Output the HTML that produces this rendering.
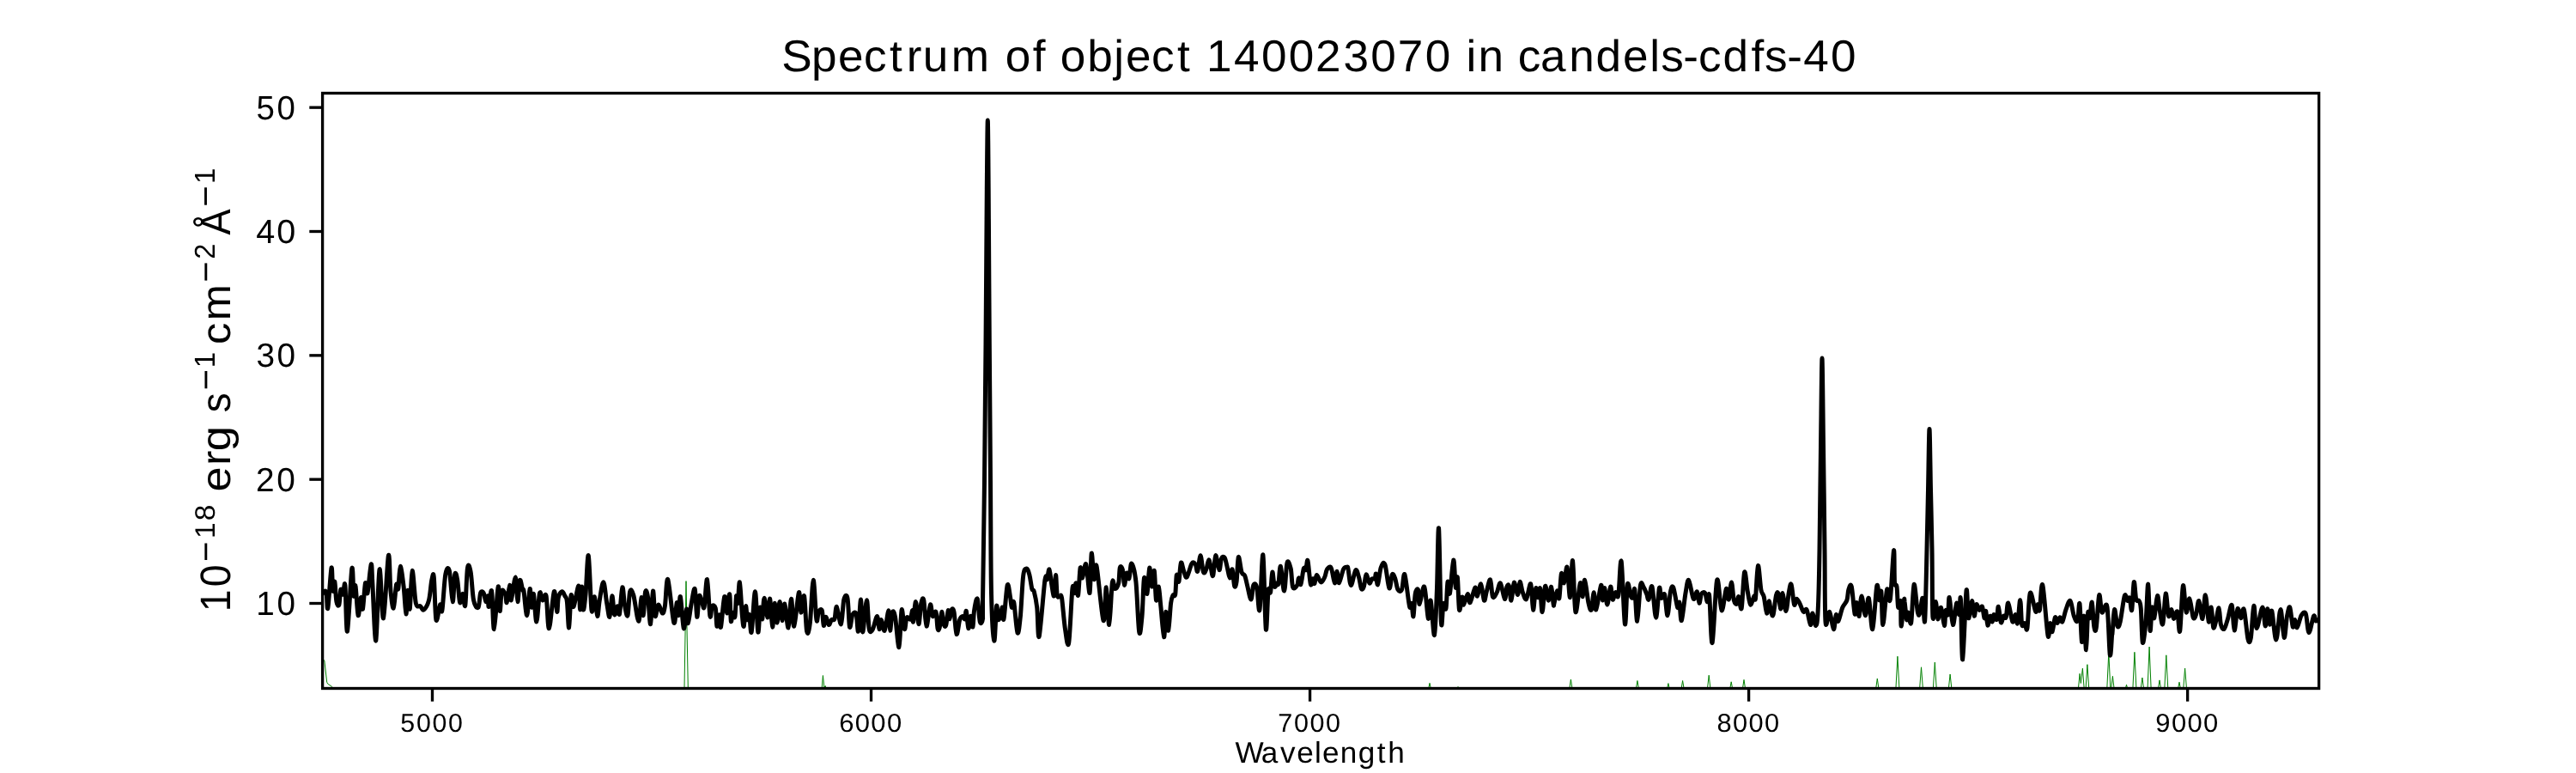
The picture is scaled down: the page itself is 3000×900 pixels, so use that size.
<!DOCTYPE html>
<html><head><meta charset="utf-8"><style>
html,body{margin:0;padding:0;background:#fff;}
svg{display:block;will-change:transform;}
text{font-family:"Liberation Sans", sans-serif;fill:#000;font-kerning:none;text-rendering:geometricPrecision;}
</style></head><body>
<svg width="3000" height="900" viewBox="0 0 3000 900">
<rect x="0" y="0" width="3000" height="900" fill="#fff"/>
<defs><clipPath id="ax"><rect x="375.6" y="108.5" width="2325.0" height="693.0"/></clipPath></defs>
<g clip-path="url(#ax)" fill="none" stroke-linejoin="round" stroke-linecap="round">
<path d="M370.0 760.0 L376.8 768.1 L377.8 769.0 L380.7 794.3 L381.6 796.1 L386.5 799.4 L392.0 806.0 L795.5 806.0 L797.0 801.0 L799.0 676.6 L801.3 801.0 L803.0 806.0 L956.8 806.0 L958.4 786.5 L959.8 800.0 L961.3 798.5 L962.5 806.0 L1662.8 806.0 L1665.0 795.3 L1667.2 806.0 L1695.8 806.0 L1698.0 799.5 L1700.2 806.0 L1827.2 806.0 L1829.4 791.0 L1831.6 806.0 L1904.7 806.0 L1906.9 792.5 L1909.1 806.0 L1940.7 806.0 L1942.9 795.6 L1945.1 806.0 L1957.4 806.0 L1959.6 792.5 L1961.8 806.0 L1988.0 806.0 L1990.2 786.2 L1992.4 806.0 L2014.0 806.0 L2016.2 793.8 L2018.4 806.0 L2028.8 806.0 L2031.0 791.4 L2033.2 806.0 L2184.1 806.0 L2186.3 790.0 L2188.5 806.0 L2207.7 806.0 L2209.9 764.2 L2212.1 806.0 L2235.3 806.0 L2237.5 776.8 L2239.7 806.0 L2251.1 806.0 L2253.3 771.1 L2255.5 806.0 L2268.9 806.0 L2271.1 785.0 L2273.3 806.0 L2420.0 806.0 L2422.1 784.3 L2423.3 795.5 L2425.4 778.2 L2427.5 806.0 L2428.8 806.0 L2430.9 773.7 L2433.0 806.0 L2453.6 806.0 L2455.8 760.0 L2458.0 806.0 L2458.2 806.0 L2460.4 787.3 L2462.6 806.0 L2474.3 806.0 L2476.5 797.2 L2478.7 806.0 L2483.7 806.0 L2485.9 759.3 L2488.1 806.0 L2492.7 806.0 L2494.9 789.0 L2497.1 806.0 L2500.9 806.0 L2503.1 753.1 L2505.3 806.0 L2512.8 806.0 L2515.0 791.9 L2517.2 806.0 L2520.6 806.0 L2522.8 762.8 L2525.0 806.0 L2535.8 806.0 L2538.0 794.2 L2540.2 806.0 L2542.4 806.0 L2544.6 778.0 L2546.8 806.0 L2710.0 806.0" stroke="#008000" stroke-width="1.0"/>
<path d="M370.0 700.6 C371.5 698.5 377.3 686.7 379.2 688.0 C381.2 689.3 380.6 712.7 381.8 708.2 C382.9 703.7 385.0 664.5 386.0 661.1 C387.0 657.7 387.0 685.3 387.7 688.0 C388.3 690.7 389.1 675.0 389.8 677.1 C390.5 679.2 391.0 696.1 391.9 700.6 C392.7 705.1 394.0 706.4 394.9 704.0 C395.7 701.6 396.1 688.3 396.9 686.3 C397.7 684.4 398.6 693.0 399.4 692.2 C400.3 691.4 401.1 674.1 401.9 681.3 C402.8 688.4 403.1 738.3 404.5 735.1 C405.8 731.9 408.6 668.8 409.8 661.9 C411.1 655.1 411.3 690.5 412.0 693.9 C412.7 697.2 413.2 678.3 414.0 682.1 C414.9 685.9 416.0 714.3 417.1 716.6 C418.1 718.8 419.5 696.8 420.4 695.6 C421.3 694.3 421.6 711.8 422.5 709.0 C423.3 706.2 424.6 681.8 425.5 678.8 C426.4 675.7 426.9 694.2 428.0 690.5 C429.1 686.9 431.2 658.6 432.2 656.9 C433.2 655.2 433.0 665.6 433.9 680.4 C434.8 695.3 436.4 748.9 437.8 746.0 C439.1 743.1 440.5 667.1 442.0 662.8 C443.4 658.4 444.8 722.6 446.5 719.9 C448.2 717.3 451.0 652.3 452.4 646.8 C453.8 641.3 453.9 676.9 454.9 687.2 C455.9 697.4 457.1 709.3 458.3 708.2 C459.4 707.1 460.7 684.2 461.6 680.4 C462.6 676.7 463.1 689.0 463.8 685.5 C464.6 682.0 465.1 660.0 466.2 659.4 C467.2 658.9 468.9 672.9 470.0 682.1 C471.2 691.4 472.1 714.1 472.9 714.9 C473.7 715.7 474.3 688.1 475.1 687.2 C475.8 686.2 476.4 712.8 477.3 709.0 C478.1 705.2 478.9 665.6 480.1 664.5 C481.3 663.3 482.8 695.4 484.3 702.3 C485.9 709.2 487.8 704.4 489.4 705.7 C490.9 706.9 491.9 711.0 493.6 709.9 C495.3 708.7 497.9 704.7 499.5 698.9 C501.0 693.2 501.8 679.9 502.8 675.4 C503.8 670.9 504.5 664.3 505.3 672.0 C506.2 679.7 506.7 716.3 507.9 721.6 C509.1 727.0 511.4 705.8 512.6 704.0 C513.7 702.2 513.9 716.6 514.9 710.7 C516.0 704.8 517.4 676.4 518.8 668.7 C520.2 661.0 521.9 659.1 523.3 664.5 C524.7 669.8 526.1 699.9 527.2 700.6 C528.3 701.3 528.8 672.9 529.7 668.7 C530.6 664.5 531.8 669.9 532.7 675.4 C533.7 680.9 534.6 698.8 535.6 701.5 C536.6 704.1 537.9 690.8 539.0 691.4 C540.0 691.9 540.9 709.9 541.8 704.8 C542.7 699.8 543.4 667.5 544.5 661.1 C545.6 654.7 547.0 659.8 548.2 666.1 C549.4 672.5 550.1 692.1 551.6 698.9 C553.0 705.8 555.6 708.7 557.0 707.3 C558.3 705.9 558.6 693.3 559.6 690.5 C560.7 687.7 562.3 688.8 563.3 690.5 C564.4 692.2 565.0 700.1 565.9 700.6 C566.7 701.2 567.8 692.9 568.4 693.9 C568.9 694.9 568.5 707.5 569.2 706.5 C569.9 705.5 571.6 683.7 572.6 688.0 C573.6 692.3 574.2 733.4 575.4 732.6 C576.7 731.7 579.0 686.5 580.2 683.0 C581.3 679.5 581.5 710.7 582.2 711.5 C582.9 712.4 583.3 691.2 584.4 688.0 C585.4 684.8 587.6 690.0 588.6 692.2 C589.5 694.4 589.4 703.3 590.2 701.5 C591.1 699.6 592.8 681.7 593.6 681.3 C594.4 680.9 594.2 700.5 595.3 698.9 C596.4 697.4 599.1 671.8 600.3 672.0 C601.6 672.3 602.0 700.1 602.9 700.6 C603.7 701.2 604.4 677.6 605.4 675.4 C606.4 673.2 608.0 685.1 608.7 687.2 C609.5 689.3 609.2 683.1 610.0 688.0 C610.8 692.9 612.5 717.0 613.7 716.6 C614.9 716.2 616.1 687.0 617.1 685.5 C618.0 683.9 618.5 706.4 619.2 707.3 C620.0 708.3 620.5 688.6 621.4 691.4 C622.4 694.2 623.6 724.3 624.8 724.1 C626.0 724.0 627.3 694.7 628.5 690.5 C629.7 686.3 630.6 698.4 631.9 698.9 C633.1 699.5 634.8 688.4 636.1 693.9 C637.3 699.4 637.9 732.6 639.4 731.7 C641.0 730.9 643.8 692.1 645.3 688.8 C646.8 685.6 647.8 711.3 648.7 712.4 C649.5 713.5 649.4 699.5 650.3 695.6 C651.3 691.6 653.3 689.1 654.6 688.8 C655.8 688.6 656.9 691.9 657.9 693.9 C658.9 695.8 659.7 694.4 660.4 700.6 C661.2 706.8 661.8 732.1 662.6 730.9 C663.4 729.6 664.2 697.1 665.1 693.0 C666.0 689.0 666.5 708.3 668.0 706.5 C669.5 704.7 672.6 681.6 673.9 682.1 C675.1 682.7 675.0 709.7 675.6 709.9 C676.2 710.0 677.0 683.0 677.6 683.0 C678.2 683.0 678.5 708.3 679.3 709.9 C680.0 711.4 680.9 702.7 682.0 692.2 C683.0 681.7 684.1 643.7 685.3 646.8 C686.5 649.9 687.8 702.7 689.0 710.7 C690.2 718.7 691.3 693.6 692.4 694.7 C693.5 695.8 694.8 716.7 695.7 717.4 C696.7 718.1 697.1 705.5 698.3 698.9 C699.4 692.3 701.4 677.4 702.8 677.9 C704.2 678.5 705.5 695.6 706.7 702.3 C707.9 709.0 709.0 719.7 710.0 718.3 C711.1 716.9 712.0 694.3 712.9 693.9 C713.8 693.5 714.6 713.8 715.6 715.7 C716.6 717.7 718.0 705.8 718.9 705.7 C719.9 705.5 720.5 718.5 721.5 714.9 C722.4 711.3 723.8 685.3 724.8 683.8 C725.9 682.3 726.6 700.2 727.7 705.7 C728.7 711.1 730.1 719.4 731.0 716.6 C732.0 713.8 732.5 692.8 733.6 688.8 C734.7 684.9 736.1 687.3 737.8 693.0 C739.5 698.8 742.1 722.9 743.7 723.3 C745.2 723.7 746.1 696.7 747.0 695.6 C747.9 694.4 748.4 717.7 749.2 716.6 C750.0 715.5 750.7 692.3 751.6 688.8 C752.5 685.3 753.6 689.3 754.6 695.6 C755.6 701.9 756.6 727.9 757.6 726.7 C758.6 725.4 759.6 689.5 760.5 688.0 C761.4 686.5 762.0 714.8 763.0 717.4 C764.0 720.1 765.3 704.5 766.7 704.0 C768.1 703.4 770.1 713.8 771.4 714.1 C772.7 714.3 773.4 712.2 774.4 705.7 C775.5 699.1 776.1 671.3 777.8 674.6 C779.5 677.8 783.1 720.5 784.8 725.0 C786.6 729.5 787.3 702.9 788.2 701.5 C789.1 700.1 789.5 717.7 790.2 716.6 C790.9 715.5 791.4 692.2 792.4 694.7 C793.4 697.2 795.1 729.3 796.3 731.7 C797.5 734.1 798.8 710.0 799.6 709.0 C800.5 708.0 800.4 726.7 801.3 725.8 C802.2 725.0 803.7 710.7 805.0 704.0 C806.3 697.2 808.1 683.1 809.2 685.5 C810.3 687.9 810.9 716.9 811.7 718.3 C812.6 719.7 813.3 696.7 814.3 693.9 C815.3 691.1 816.7 699.4 817.6 701.5 C818.6 703.6 819.2 711.0 820.2 706.5 C821.1 702.0 822.4 672.7 823.5 674.6 C824.6 676.4 825.9 712.2 826.9 717.4 C827.9 722.6 828.3 707.2 829.4 705.7 C830.5 704.1 832.3 704.3 833.3 708.2 C834.2 712.1 834.2 727.9 834.9 729.2 C835.7 730.5 837.1 715.6 837.8 715.7 C838.6 715.9 838.5 733.5 839.5 730.0 C840.5 726.5 842.5 697.4 843.7 694.7 C844.9 692.1 845.9 714.1 846.7 714.1 C847.6 714.1 848.2 698.0 848.7 694.7 C849.3 691.5 849.6 690.0 850.0 694.7 C850.4 699.5 850.8 720.2 851.3 723.3 C851.9 726.4 852.6 714.1 853.4 713.2 C854.1 712.4 855.2 721.5 855.9 718.3 C856.6 715.0 857.0 696.5 857.6 693.9 C858.1 691.2 858.6 705.0 859.2 702.3 C859.9 699.6 860.6 675.7 861.4 677.9 C862.3 680.2 863.5 707.2 864.3 715.7 C865.1 724.3 865.6 730.9 866.3 729.2 C867.0 727.5 867.8 706.9 868.5 705.7 C869.2 704.4 869.8 719.9 870.5 721.6 C871.2 723.3 871.9 713.4 872.7 715.7 C873.5 718.1 874.1 740.4 875.2 735.9 C876.3 731.4 878.2 688.8 879.4 688.8 C880.7 688.8 881.8 732.8 882.8 735.9 C883.8 739.0 884.5 709.9 885.3 707.3 C886.1 704.8 887.0 722.6 887.8 720.8 C888.6 719.0 889.0 696.7 890.0 696.4 C891.1 696.1 892.9 719.0 894.0 719.1 C895.2 719.2 895.8 695.4 896.7 697.2 C897.7 699.1 898.7 729.2 899.6 730.0 C900.5 730.9 901.2 703.1 902.1 702.3 C903.0 701.5 904.2 725.3 905.1 725.0 C906.1 724.7 907.0 701.0 908.0 700.6 C909.0 700.2 909.9 722.0 910.9 722.5 C911.8 722.9 912.7 701.7 913.9 703.1 C915.1 704.5 916.8 731.9 918.1 730.9 C919.4 729.9 920.3 697.5 921.5 697.2 C922.6 697.0 923.3 730.5 924.8 729.2 C926.3 727.9 929.0 692.3 930.4 689.7 C931.7 687.0 931.7 712.5 932.7 713.2 C933.8 713.9 935.4 690.2 936.6 693.9 C937.7 697.5 938.5 729.8 939.6 735.1 C940.7 740.4 942.0 735.8 943.3 725.8 C944.6 715.9 945.9 676.1 947.2 675.4 C948.4 674.7 949.8 715.5 950.9 721.6 C951.9 727.8 952.3 714.2 953.4 712.4 C954.5 710.6 956.3 708.0 957.3 710.7 C958.2 713.4 958.5 727.1 959.3 728.4 C960.0 729.6 960.8 718.4 961.8 718.3 C962.8 718.1 964.0 727.0 965.2 727.5 C966.3 728.1 967.4 722.7 968.5 721.6 C969.6 720.5 970.9 723.3 971.9 720.8 C972.9 718.3 973.2 705.5 974.4 706.5 C975.7 707.5 978.1 728.1 979.5 726.7 C980.9 725.3 981.6 703.1 982.8 698.1 C984.1 693.0 985.9 691.1 987.0 696.4 C988.1 701.7 988.6 726.8 989.5 730.0 C990.5 733.3 991.6 718.3 992.9 715.7 C994.2 713.2 996.0 711.7 997.1 714.9 C998.2 718.1 998.7 737.9 999.6 735.1 C1000.5 732.3 1001.6 698.0 1002.5 698.1 C1003.3 698.2 1003.5 735.8 1004.7 735.9 C1005.8 736.1 1008.1 699.5 1009.4 698.9 C1010.6 698.4 1011.1 727.0 1012.2 732.6 C1013.4 738.2 1014.9 735.1 1016.4 732.6 C1018.0 730.0 1020.2 717.4 1021.5 717.4 C1022.7 717.4 1023.2 731.9 1024.0 732.6 C1024.8 733.3 1025.5 721.3 1026.5 721.6 C1027.6 721.9 1028.8 736.1 1030.2 734.2 C1031.6 732.4 1033.9 710.7 1034.9 710.7 C1036.0 710.7 1035.9 733.8 1036.6 734.2 C1037.3 734.7 1038.2 715.9 1039.1 713.2 C1040.1 710.6 1041.2 711.5 1042.5 718.3 C1043.8 725.0 1045.8 755.0 1047.0 753.6 C1048.3 752.2 1049.0 713.4 1050.1 709.9 C1051.1 706.4 1052.4 731.0 1053.4 732.6 C1054.4 734.1 1054.8 721.1 1056.0 719.1 C1057.1 717.1 1059.0 722.2 1060.2 720.8 C1061.3 719.4 1062.1 710.1 1062.7 710.7 C1063.2 711.3 1062.9 725.8 1063.5 724.1 C1064.2 722.5 1065.5 700.2 1066.5 700.6 C1067.6 701.0 1068.9 726.4 1069.9 726.7 C1070.9 727.0 1071.8 706.9 1072.8 702.3 C1073.7 697.7 1074.8 694.4 1075.8 698.9 C1076.8 703.4 1077.7 728.4 1079.0 729.2 C1080.2 730.0 1082.2 705.9 1083.4 704.0 C1084.6 702.0 1085.1 716.0 1086.2 717.4 C1087.3 718.8 1089.0 710.0 1090.0 712.4 C1091.0 714.8 1091.3 728.6 1092.0 731.7 C1092.7 734.8 1093.4 734.1 1094.2 730.9 C1095.0 727.7 1095.9 712.9 1096.7 712.4 C1097.6 711.8 1098.4 725.0 1099.2 727.5 C1100.1 730.0 1100.9 730.3 1101.8 727.5 C1102.6 724.7 1103.6 711.8 1104.3 710.7 C1105.0 709.6 1105.3 720.9 1106.0 720.8 C1106.6 720.6 1107.3 711.3 1108.2 709.9 C1109.0 708.5 1110.0 707.6 1111.0 712.4 C1112.0 717.1 1112.9 736.9 1114.0 738.4 C1115.2 740.0 1116.6 725.1 1117.7 721.6 C1118.9 718.1 1120.1 717.6 1121.1 717.4 C1122.1 717.3 1122.9 721.8 1123.6 720.8 C1124.3 719.8 1124.6 709.7 1125.3 711.5 C1126.0 713.4 1127.0 730.7 1127.8 731.7 C1128.7 732.7 1129.5 717.7 1130.3 717.4 C1131.2 717.1 1132.2 731.2 1132.9 730.0 C1133.6 728.9 1133.7 716.2 1134.6 710.7 C1135.4 705.2 1137.1 695.0 1138.3 697.2 C1139.4 699.5 1140.2 720.4 1141.3 724.1 C1142.3 727.9 1144.1 724.0 1144.6 719.9 C1144.5 715.9 1144.5 726.7 1144.5 700.0 C1144.8 673.3 1145.9 610.0 1146.5 560.0 C1147.1 510.0 1147.5 456.7 1148.0 400.0 C1148.5 343.3 1148.9 263.3 1149.3 220.0 C1149.7 176.7 1150.0 140.0 1150.3 140.0 C1150.6 140.0 1150.9 176.7 1151.2 220.0 C1151.5 263.3 1151.9 343.3 1152.3 400.0 C1152.7 456.7 1153.1 511.7 1153.5 560.0 C1153.9 608.3 1153.8 659.0 1154.5 690.0 C1155.2 721.0 1156.7 743.4 1157.8 746.0 C1158.8 748.6 1159.8 709.7 1160.6 705.7 C1161.4 701.6 1161.8 720.2 1162.6 721.6 C1163.5 723.0 1164.9 716.4 1165.7 714.1 C1166.4 711.7 1166.8 706.2 1167.3 707.3 C1167.9 708.5 1168.0 725.1 1169.0 720.8 C1170.0 716.4 1172.0 685.5 1173.2 681.3 C1174.5 677.1 1175.7 691.2 1176.6 695.6 C1177.4 699.9 1177.6 706.4 1178.3 707.3 C1179.0 708.3 1179.7 696.5 1180.8 701.5 C1181.9 706.4 1183.7 734.1 1185.0 736.8 C1186.3 739.4 1187.2 728.5 1188.4 717.4 C1189.5 706.4 1190.5 679.6 1191.7 670.3 C1192.9 661.1 1194.4 662.1 1195.6 661.9 C1196.8 661.8 1197.9 665.6 1198.9 669.5 C1200.0 673.4 1200.9 682.3 1201.8 685.5 C1202.7 688.7 1203.3 685.2 1204.3 688.8 C1205.3 692.5 1206.7 698.7 1207.7 707.3 C1208.7 716.0 1208.7 746.3 1210.2 741.0 C1211.7 735.6 1215.4 686.5 1216.9 675.4 C1218.5 664.3 1218.6 676.7 1219.5 674.6 C1220.3 672.5 1221.1 662.1 1222.0 662.8 C1222.8 663.5 1223.6 673.6 1224.5 678.8 C1225.4 683.9 1226.7 695.4 1227.5 693.9 C1228.4 692.3 1228.9 669.6 1229.5 669.5 C1230.2 669.4 1230.4 688.8 1231.2 693.0 C1232.0 697.2 1233.4 694.2 1234.3 694.7 C1235.1 695.3 1235.6 690.1 1236.6 696.4 C1237.6 702.7 1239.1 723.9 1240.5 732.6 C1241.8 741.2 1243.3 756.4 1244.7 748.5 C1246.1 740.7 1247.8 695.1 1248.9 685.5 C1250.0 675.8 1250.7 691.6 1251.4 690.5 C1252.1 689.4 1252.4 678.3 1253.1 678.8 C1253.8 679.2 1254.8 696.0 1255.6 693.0 C1256.4 690.1 1257.3 664.5 1258.1 661.1 C1259.0 657.7 1259.5 673.6 1260.6 672.9 C1261.8 672.2 1263.4 654.0 1264.8 656.9 C1266.2 659.8 1268.0 692.6 1269.1 690.5 C1270.1 688.4 1270.4 647.0 1271.2 644.3 C1272.1 641.6 1273.1 672.0 1274.1 674.6 C1275.1 677.1 1275.3 651.4 1277.1 659.4 C1278.9 667.4 1283.1 718.4 1285.0 722.5 C1286.9 726.5 1287.3 683.0 1288.4 683.8 C1289.5 684.6 1290.6 728.5 1291.7 727.5 C1292.9 726.5 1294.3 684.9 1295.4 677.9 C1296.6 670.9 1297.3 685.3 1298.5 685.5 C1299.7 685.6 1301.7 683.0 1302.7 678.8 C1303.7 674.6 1303.5 662.6 1304.4 660.3 C1305.2 657.9 1306.9 661.0 1307.7 664.5 C1308.6 668.0 1308.6 680.9 1309.4 681.3 C1310.2 681.7 1311.3 668.2 1312.3 667.0 C1313.2 665.7 1314.0 675.5 1314.9 673.7 C1315.9 671.9 1316.5 655.5 1317.8 656.1 C1319.1 656.6 1321.4 663.8 1322.9 677.1 C1324.3 690.4 1325.5 729.2 1326.7 735.9 C1327.9 742.6 1329.0 727.9 1330.0 717.4 C1331.0 706.9 1331.5 677.2 1332.5 672.9 C1333.5 668.5 1334.8 693.3 1335.9 691.4 C1336.9 689.4 1337.8 662.5 1338.7 661.1 C1339.7 659.7 1340.5 682.4 1341.4 683.0 C1342.4 683.5 1343.4 661.8 1344.3 664.5 C1345.1 667.1 1345.6 695.8 1346.5 698.9 C1347.3 702.0 1348.4 681.7 1349.3 683.0 C1350.2 684.2 1350.8 696.7 1351.9 706.5 C1352.9 716.3 1354.6 740.8 1355.6 741.8 C1356.5 742.8 1356.9 713.6 1357.7 712.4 C1358.6 711.1 1359.6 735.9 1360.6 734.2 C1361.6 732.6 1362.7 709.2 1363.6 702.3 C1364.5 695.4 1365.3 694.7 1366.1 693.0 C1367.0 691.4 1368.0 696.1 1368.7 692.2 C1369.4 688.3 1369.6 672.0 1370.3 669.5 C1371.1 667.0 1372.0 679.5 1372.9 677.1 C1373.7 674.7 1374.4 657.2 1375.4 655.2 C1376.4 653.3 1377.6 662.5 1378.8 665.3 C1379.9 668.1 1380.6 673.6 1382.1 672.0 C1383.7 670.5 1386.3 658.6 1388.0 656.1 C1389.7 653.5 1391.1 655.4 1392.2 656.9 C1393.3 658.4 1393.7 667.0 1394.7 665.3 C1395.7 663.6 1397.0 646.7 1398.1 646.8 C1399.2 647.0 1400.3 663.5 1401.5 666.1 C1402.6 668.8 1403.8 665.2 1404.8 662.8 C1405.9 660.4 1406.8 652.4 1407.7 651.9 C1408.5 651.3 1409.0 656.3 1409.9 659.4 C1410.7 662.5 1411.7 672.5 1412.7 670.3 C1413.7 668.2 1414.5 647.9 1415.7 646.8 C1416.9 645.7 1418.8 663.1 1419.9 663.6 C1421.1 664.2 1421.4 652.6 1422.5 650.2 C1423.5 647.8 1425.0 647.7 1426.2 649.3 C1427.3 651.0 1428.2 656.3 1429.2 660.3 C1430.2 664.2 1431.2 672.5 1432.2 672.9 C1433.2 673.3 1434.2 661.2 1435.1 662.8 C1436.0 664.3 1436.8 679.7 1437.6 682.1 C1438.4 684.5 1439.3 682.7 1440.1 677.1 C1440.9 671.5 1441.3 650.3 1442.3 648.5 C1443.3 646.7 1444.8 662.5 1446.0 666.1 C1447.2 669.8 1448.6 667.7 1449.7 670.3 C1450.8 673.0 1451.5 677.5 1452.7 682.1 C1453.9 686.7 1455.8 698.2 1456.9 698.1 C1458.1 698.0 1458.7 683.7 1459.8 681.3 C1460.9 678.9 1462.5 679.0 1463.7 683.8 C1464.9 688.6 1465.8 716.2 1467.0 709.9 C1468.2 703.6 1469.7 642.2 1470.9 646.0 C1472.1 649.8 1473.2 725.7 1474.3 732.6 C1475.3 739.4 1476.2 694.3 1477.1 687.2 C1478.0 680.0 1478.8 693.2 1479.6 689.7 C1480.4 686.2 1481.0 667.3 1481.8 666.1 C1482.6 665.0 1483.4 680.9 1484.3 683.0 C1485.2 685.1 1486.4 679.3 1487.2 678.8 C1488.0 678.2 1488.2 682.8 1488.9 679.6 C1489.6 676.4 1490.3 658.0 1491.4 659.4 C1492.5 660.8 1494.3 688.7 1495.6 688.0 C1496.9 687.3 1497.7 659.6 1499.0 655.2 C1500.2 650.9 1502.0 657.2 1503.2 661.9 C1504.3 666.7 1504.4 680.6 1505.7 683.8 C1507.0 687.0 1509.6 683.1 1510.7 681.3 C1511.9 679.5 1511.7 673.0 1512.4 672.9 C1513.1 672.7 1514.0 682.3 1514.9 680.4 C1515.9 678.6 1517.3 664.7 1518.3 661.9 C1519.3 659.1 1520.0 665.2 1520.8 663.6 C1521.6 662.1 1522.1 649.9 1523.0 652.7 C1523.9 655.5 1525.3 676.9 1526.4 680.4 C1527.4 683.9 1528.5 673.9 1529.2 673.7 C1530.0 673.6 1530.2 680.3 1530.9 679.6 C1531.6 678.9 1532.2 669.8 1533.4 669.5 C1534.7 669.2 1536.9 677.5 1538.5 677.9 C1540.0 678.3 1541.5 674.6 1542.7 672.0 C1543.9 669.5 1544.3 664.6 1545.5 662.8 C1546.8 661.0 1548.8 658.4 1550.2 661.1 C1551.7 663.8 1553.3 678.1 1554.4 678.8 C1555.6 679.5 1556.1 665.3 1557.0 665.3 C1557.8 665.3 1558.2 679.2 1559.5 678.8 C1560.7 678.3 1563.0 665.9 1564.5 662.8 C1566.1 659.7 1567.8 660.4 1568.7 660.3 C1569.6 660.2 1569.2 658.7 1570.0 662.2 C1570.8 665.8 1571.9 681.3 1573.4 681.5 C1574.8 681.8 1577.2 665.4 1578.7 663.9 C1580.3 662.3 1581.5 668.7 1582.6 672.3 C1583.7 675.9 1584.5 684.1 1585.5 685.7 C1586.4 687.4 1587.6 685.2 1588.5 682.4 C1589.4 679.6 1590.0 669.5 1591.0 668.9 C1592.1 668.4 1593.8 678.2 1594.9 679.0 C1596.0 679.9 1596.7 674.8 1597.7 674.0 C1598.8 673.1 1600.3 675.0 1601.1 674.0 C1601.9 673.0 1601.9 667.0 1602.4 668.1 C1603.0 669.2 1603.5 682.0 1604.5 680.7 C1605.4 679.4 1606.9 664.4 1608.3 660.5 C1609.7 656.6 1611.3 653.1 1612.9 657.2 C1614.5 661.2 1616.5 682.9 1617.9 684.9 C1619.3 686.9 1620.2 670.9 1621.3 668.9 C1622.4 667.0 1623.5 670.2 1624.6 673.1 C1625.8 676.1 1626.7 684.3 1628.0 686.6 C1629.3 688.8 1631.2 689.5 1632.5 686.6 C1633.9 683.6 1634.4 665.7 1635.9 668.9 C1637.4 672.2 1640.1 700.3 1641.5 705.9 C1642.8 711.5 1643.2 700.6 1644.0 702.6 C1644.7 704.5 1645.3 719.5 1646.0 717.7 C1646.7 715.9 1647.3 696.8 1648.2 691.6 C1649.1 686.4 1650.7 684.6 1651.5 686.6 C1652.4 688.5 1652.0 704.0 1653.2 703.4 C1654.4 702.8 1657.1 680.4 1658.8 683.2 C1660.5 686.0 1662.1 717.5 1663.3 720.2 C1664.5 722.9 1665.0 696.0 1666.2 699.2 C1667.4 702.4 1669.3 741.5 1670.5 739.5 C1671.7 737.6 1672.6 708.2 1673.4 687.4 C1674.2 666.7 1674.7 609.0 1675.6 615.1 C1676.4 621.3 1677.5 709.8 1678.4 724.4 C1679.3 739.0 1680.0 705.2 1681.0 702.6 C1681.9 699.9 1683.1 712.6 1684.0 708.4 C1684.8 704.2 1685.2 680.3 1686.0 677.3 C1686.8 674.4 1687.4 695.0 1688.5 690.8 C1689.6 686.6 1691.6 653.2 1692.7 652.1 C1693.9 651.0 1694.5 680.7 1695.3 684.1 C1696.0 687.4 1696.7 668.0 1697.4 672.3 C1698.1 676.6 1698.6 706.3 1699.5 710.1 C1700.4 713.9 1702.0 696.0 1702.8 695.0 C1703.7 694.0 1703.4 704.8 1704.5 704.2 C1705.6 703.7 1707.9 692.0 1709.2 691.6 C1710.5 691.2 1710.6 703.0 1712.1 701.7 C1713.5 700.5 1716.5 685.3 1717.9 684.1 C1719.3 682.8 1719.3 694.8 1720.5 694.1 C1721.6 693.4 1723.4 679.0 1724.7 679.9 C1726.0 680.7 1727.3 697.8 1728.4 699.2 C1729.5 700.6 1730.2 692.3 1731.4 688.3 C1732.6 684.2 1734.4 673.7 1735.6 674.8 C1736.8 675.9 1737.2 692.5 1738.5 695.0 C1739.7 697.5 1741.7 692.6 1743.2 689.9 C1744.7 687.3 1745.8 677.8 1747.4 679.0 C1748.9 680.3 1751.2 696.8 1752.4 697.5 C1753.7 698.2 1754.1 685.7 1754.9 683.2 C1755.8 680.7 1756.6 679.7 1757.5 682.4 C1758.3 685.0 1759.0 699.9 1760.0 699.2 C1761.0 698.5 1762.1 679.3 1763.3 678.2 C1764.6 677.1 1766.4 692.6 1767.5 692.5 C1768.7 692.3 1769.1 677.8 1770.1 677.3 C1771.0 676.9 1772.2 686.6 1773.4 689.9 C1774.7 693.3 1776.1 699.2 1777.6 697.5 C1779.2 695.8 1781.4 677.8 1782.7 679.9 C1784.0 682.0 1784.6 709.3 1785.5 710.1 C1786.5 711.0 1787.6 687.3 1788.6 684.9 C1789.5 682.5 1790.2 695.8 1791.1 695.8 C1791.9 695.8 1792.8 682.1 1793.6 684.9 C1794.4 687.7 1795.1 713.1 1796.1 712.6 C1797.1 712.2 1798.3 684.6 1799.5 682.4 C1800.7 680.1 1802.2 699.1 1803.4 699.2 C1804.6 699.3 1805.8 682.5 1806.7 683.2 C1807.7 683.9 1808.5 700.2 1809.1 703.4 C1809.6 706.6 1809.3 704.9 1810.0 702.3 C1810.7 699.7 1812.4 689.0 1813.4 688.0 C1814.3 687.0 1815.0 699.8 1815.9 696.4 C1816.7 693.0 1817.5 670.8 1818.4 667.8 C1819.3 664.9 1820.3 680.0 1821.4 678.8 C1822.6 677.5 1824.0 657.5 1825.1 660.3 C1826.3 663.1 1827.4 696.8 1828.5 695.6 C1829.6 694.3 1830.5 649.9 1831.5 652.7 C1832.6 655.5 1833.4 708.0 1834.9 712.4 C1836.3 716.7 1838.9 681.7 1840.3 678.8 C1841.7 675.8 1842.4 695.3 1843.3 694.7 C1844.2 694.2 1844.5 674.1 1845.6 675.4 C1846.8 676.7 1848.7 696.5 1850.0 702.3 C1851.3 708.0 1852.3 712.0 1853.4 709.9 C1854.4 707.8 1855.3 689.7 1856.2 689.7 C1857.1 689.7 1857.4 711.3 1858.8 709.9 C1860.2 708.5 1863.4 683.1 1864.6 681.3 C1865.9 679.5 1865.6 698.4 1866.3 698.9 C1867.0 699.5 1867.9 683.8 1868.8 684.6 C1869.8 685.5 1870.7 704.3 1871.9 704.0 C1873.0 703.7 1874.5 683.9 1875.6 683.0 C1876.6 682.0 1877.1 697.0 1878.1 698.1 C1879.1 699.2 1880.3 690.5 1881.5 689.7 C1882.6 688.8 1883.7 699.1 1884.8 693.0 C1885.9 687.0 1886.9 647.9 1888.2 653.5 C1889.4 659.1 1891.2 722.2 1892.4 726.7 C1893.6 731.2 1894.3 685.9 1895.4 680.4 C1896.5 675.0 1898.1 691.4 1899.1 693.9 C1900.1 696.4 1900.8 696.8 1901.6 695.6 C1902.4 694.3 1903.0 681.7 1903.8 686.3 C1904.7 690.9 1905.6 724.1 1906.7 723.3 C1907.8 722.5 1909.3 687.9 1910.5 681.3 C1911.8 674.7 1913.1 682.1 1914.2 683.8 C1915.4 685.5 1916.6 689.0 1917.6 691.4 C1918.6 693.7 1919.1 699.5 1920.1 698.1 C1921.2 696.7 1922.6 679.5 1924.0 683.0 C1925.4 686.5 1927.1 718.8 1928.5 719.1 C1929.9 719.4 1931.4 688.4 1932.4 684.6 C1933.4 680.9 1933.7 695.1 1934.7 696.4 C1935.8 697.7 1937.4 688.8 1938.6 692.2 C1939.8 695.6 1940.9 717.0 1942.0 716.6 C1943.1 716.2 1944.2 695.1 1945.3 689.7 C1946.5 684.2 1947.3 680.9 1948.7 683.8 C1950.1 686.7 1952.5 704.4 1953.7 707.3 C1955.0 710.3 1955.2 698.9 1955.9 701.5 C1956.7 704.0 1957.1 724.3 1958.3 722.5 C1959.5 720.6 1961.6 698.4 1963.0 690.5 C1964.4 682.7 1965.2 674.3 1966.7 675.4 C1968.2 676.5 1970.6 695.0 1972.2 697.2 C1973.9 699.5 1975.3 688.0 1976.4 688.8 C1977.6 689.7 1978.1 701.9 1979.0 702.3 C1979.8 702.7 1980.4 693.3 1981.5 691.4 C1982.6 689.4 1984.6 689.0 1985.7 690.5 C1986.8 692.1 1987.4 700.1 1988.2 700.6 C1989.1 701.2 1989.8 685.9 1990.7 693.9 C1991.7 701.9 1992.6 751.6 1994.1 748.5 C1995.6 745.4 1997.8 681.7 1999.6 675.4 C2001.5 669.1 2003.2 709.0 2005.0 710.7 C2006.8 712.4 2009.0 687.6 2010.4 685.5 C2011.8 683.4 2012.4 699.4 2013.4 698.1 C2014.4 696.8 2015.5 677.8 2016.5 677.9 C2017.4 678.1 2018.3 694.7 2019.3 698.9 C2020.4 703.1 2021.8 703.8 2022.7 703.1 C2023.6 702.4 2023.9 693.9 2024.9 694.7 C2025.8 695.6 2027.1 712.9 2028.2 708.2 C2029.3 703.4 2030.4 669.4 2031.6 666.1 C2032.8 662.9 2034.1 682.5 2035.3 688.8 C2036.5 695.1 2037.4 703.1 2038.6 704.0 C2039.9 704.8 2041.9 695.1 2042.9 693.9 C2043.8 692.6 2043.8 702.3 2044.5 696.4 C2045.3 690.5 2046.3 660.2 2047.4 658.6 C2048.5 656.9 2049.8 680.6 2050.9 686.6 C2052.0 692.6 2053.1 690.2 2054.2 694.7 C2055.3 699.3 2056.6 713.2 2057.6 714.1 C2058.5 714.9 2059.2 700.1 2060.1 699.8 C2060.9 699.5 2061.8 709.7 2062.6 712.4 C2063.4 715.0 2064.2 719.0 2065.1 715.7 C2066.1 712.5 2067.5 697.1 2068.5 693.0 C2069.5 689.0 2070.1 688.7 2071.0 691.4 C2071.9 694.0 2073.0 709.2 2073.9 709.0 C2074.7 708.9 2075.1 690.1 2076.1 690.5 C2077.1 690.9 2078.7 711.7 2079.9 711.5 C2081.1 711.4 2082.3 694.9 2083.3 689.7 C2084.3 684.5 2085.1 678.1 2086.1 680.4 C2087.2 682.8 2088.5 701.2 2089.5 704.0 C2090.5 706.8 2091.2 697.4 2092.4 697.2 C2093.5 697.1 2094.9 700.6 2096.2 703.1 C2097.6 705.7 2099.1 711.3 2100.4 712.4 C2101.8 713.5 2102.8 707.3 2104.1 709.9 C2105.5 712.4 2107.4 726.8 2108.5 727.5 C2109.6 728.2 2109.8 713.9 2110.9 714.1 C2111.9 714.2 2113.7 728.9 2114.7 728.4 C2115.8 727.8 2116.5 725.4 2117.2 710.7 C2118.0 696.0 2118.5 671.8 2119.0 640.0 C2119.5 608.2 2120.0 557.2 2120.5 520.0 C2121.0 482.8 2121.5 417.0 2122.0 417.0 C2122.5 417.0 2123.0 482.8 2123.5 520.0 C2124.0 557.2 2124.6 606.0 2125.0 640.0 C2125.4 674.0 2125.0 712.1 2126.0 724.1 C2126.9 736.2 2129.1 711.0 2130.7 712.4 C2132.3 713.8 2134.1 732.0 2135.4 732.6 C2136.7 733.1 2137.4 717.3 2138.3 715.7 C2139.2 714.2 2139.5 724.7 2140.8 723.3 C2142.0 721.9 2144.1 711.4 2145.8 707.3 C2147.5 703.3 2149.7 702.4 2150.9 698.9 C2152.1 695.4 2152.0 689.0 2152.9 686.3 C2153.8 683.7 2155.0 678.2 2156.3 683.0 C2157.5 687.7 2159.1 711.8 2160.1 714.9 C2161.1 718.0 2161.5 701.0 2162.3 701.5 C2163.1 701.9 2164.2 718.7 2165.2 717.4 C2166.1 716.2 2166.8 694.0 2168.0 693.9 C2169.2 693.7 2171.0 716.2 2172.4 716.6 C2173.8 717.0 2175.0 693.7 2176.4 696.4 C2177.8 699.1 2179.2 734.9 2180.8 732.6 C2182.4 730.2 2184.5 687.7 2185.8 682.1 C2187.2 676.5 2187.9 697.8 2188.7 698.9 C2189.5 700.1 2190.2 684.1 2190.9 688.8 C2191.6 693.6 2191.8 727.9 2192.9 727.5 C2194.0 727.1 2196.2 691.2 2197.6 686.3 C2199.0 681.4 2200.0 705.7 2201.3 698.1 C2202.6 690.5 2204.6 644.3 2205.5 640.9 C2206.4 637.6 2205.9 671.0 2206.5 678.0 C2207.1 685.0 2208.3 678.2 2209.0 683.0 C2209.7 687.8 2209.9 704.2 2210.6 707.0 C2211.3 709.8 2212.8 696.3 2213.4 700.0 C2214.0 703.7 2213.5 729.0 2214.2 729.0 C2214.8 729.0 2216.6 704.7 2217.3 700.0 C2218.0 695.3 2217.6 697.0 2218.1 700.6 C2218.7 704.2 2219.9 719.5 2220.6 721.6 C2221.3 723.7 2221.5 712.7 2222.3 713.2 C2223.2 713.8 2224.6 730.5 2225.7 725.0 C2226.8 719.5 2227.8 682.5 2229.1 680.4 C2230.3 678.3 2232.1 706.8 2233.3 712.4 C2234.4 718.0 2234.8 716.7 2235.8 714.1 C2236.8 711.4 2238.2 695.0 2239.1 696.4 C2240.1 697.8 2240.9 731.9 2241.7 722.5 C2242.5 713.1 2243.4 665.4 2244.0 640.0 C2244.6 614.6 2245.0 593.4 2245.5 570.0 C2246.0 546.6 2246.5 499.5 2247.0 499.5 C2247.5 499.5 2248.0 546.6 2248.5 570.0 C2249.0 593.4 2249.6 615.3 2250.0 640.0 C2250.4 664.7 2250.2 708.2 2250.9 718.3 C2251.6 728.4 2253.3 700.2 2254.3 700.6 C2255.3 701.0 2255.8 719.7 2256.8 720.8 C2257.8 721.9 2259.2 706.1 2260.5 707.3 C2261.8 708.6 2263.4 727.8 2264.4 728.4 C2265.3 728.9 2265.3 712.8 2266.0 710.7 C2266.7 708.6 2267.9 718.3 2268.6 715.7 C2269.3 713.2 2269.3 693.6 2270.2 695.6 C2271.2 697.5 2273.0 726.4 2274.4 727.5 C2275.8 728.6 2277.4 704.3 2278.6 702.3 C2279.9 700.3 2280.9 716.6 2281.7 715.7 C2282.5 714.9 2282.7 688.6 2283.4 697.2 C2284.0 705.9 2284.6 769.4 2285.7 767.9 C2286.8 766.3 2288.9 695.8 2290.0 687.7 C2291.1 679.7 2291.5 717.7 2292.5 719.7 C2293.6 721.6 2295.3 699.9 2296.4 699.5 C2297.5 699.1 2298.4 716.5 2299.2 717.2 C2300.1 717.9 2300.8 704.8 2301.8 703.7 C2302.7 702.6 2304.0 710.0 2305.1 710.4 C2306.3 710.9 2307.5 704.7 2308.5 706.2 C2309.5 707.8 2310.3 718.8 2311.0 719.7 C2311.7 720.5 2312.1 709.9 2312.7 711.3 C2313.3 712.7 2314.0 727.1 2314.9 728.1 C2315.7 729.1 2316.8 717.9 2317.7 717.2 C2318.6 716.5 2319.6 724.2 2320.3 723.9 C2321.0 723.6 2321.1 715.9 2321.9 715.5 C2322.8 715.1 2324.4 722.9 2325.3 721.4 C2326.2 719.8 2326.5 705.7 2327.3 706.2 C2328.2 706.8 2329.3 722.9 2330.3 724.7 C2331.4 726.5 2332.4 718.1 2333.4 717.2 C2334.4 716.2 2335.3 721.4 2336.2 718.8 C2337.1 716.3 2337.5 701.2 2338.8 702.0 C2340.0 702.9 2342.4 721.6 2343.8 723.9 C2345.2 726.1 2346.2 715.2 2347.2 715.5 C2348.1 715.8 2348.8 728.4 2349.7 725.6 C2350.6 722.8 2351.9 698.4 2352.7 698.7 C2353.6 698.9 2353.8 722.8 2354.7 727.2 C2355.6 731.7 2357.1 724.9 2358.1 725.6 C2359.1 726.3 2359.9 737.3 2360.9 731.5 C2362.0 725.6 2362.7 693.5 2364.3 690.3 C2365.9 687.0 2369.2 709.9 2370.7 712.1 C2372.2 714.4 2372.4 704.0 2373.2 703.7 C2374.0 703.4 2374.5 714.2 2375.4 710.4 C2376.3 706.7 2377.2 676.1 2378.8 681.0 C2380.4 685.9 2383.5 732.4 2385.0 739.9 C2386.4 747.3 2386.7 726.3 2387.5 725.6 C2388.4 724.9 2389.1 736.8 2390.0 735.7 C2391.0 734.5 2392.4 720.5 2393.4 718.8 C2394.4 717.2 2395.0 725.6 2395.9 725.6 C2396.8 725.6 2398.0 719.1 2398.9 718.8 C2399.9 718.6 2400.6 725.4 2401.8 723.9 C2403.0 722.3 2404.5 713.7 2406.0 709.6 C2407.5 705.5 2409.5 698.2 2411.0 699.5 C2412.6 700.8 2413.9 713.2 2415.3 717.2 C2416.7 721.1 2418.3 725.4 2419.5 723.0 C2420.6 720.7 2421.1 698.8 2422.0 702.9 C2422.8 706.9 2423.7 745.0 2424.5 747.4 C2425.3 749.8 2426.2 715.6 2427.0 717.2 C2427.9 718.7 2428.8 757.2 2429.5 756.7 C2430.3 756.1 2430.9 720.0 2431.6 713.8 C2432.3 707.6 2433.0 721.8 2433.7 719.7 C2434.5 717.6 2435.4 699.5 2436.3 701.2 C2437.1 702.9 2437.9 724.9 2438.8 729.8 C2439.6 734.7 2440.3 736.8 2441.3 730.6 C2442.3 724.4 2443.6 695.7 2444.7 692.8 C2445.8 689.8 2446.5 710.7 2448.0 713.0 C2449.6 715.2 2452.4 698.0 2453.9 706.2 C2455.5 714.5 2456.3 757.7 2457.3 762.6 C2458.3 767.5 2459.4 739.9 2459.8 735.7 C2460.0 731.5 2459.8 741.7 2460.0 737.3 C2460.5 733.0 2461.5 711.0 2462.5 709.6 C2463.5 708.2 2464.8 726.5 2465.9 728.9 C2467.0 731.3 2467.8 729.8 2469.2 723.9 C2470.6 718.0 2472.9 697.7 2474.3 693.6 C2475.7 689.6 2476.7 699.1 2477.7 699.5 C2478.6 699.9 2479.3 694.3 2480.2 696.1 C2481.0 698.0 2481.9 713.5 2482.7 710.4 C2483.5 707.4 2484.4 679.8 2485.2 677.7 C2486.1 675.6 2486.8 694.2 2487.7 697.8 C2488.7 701.5 2490.2 697.7 2491.1 699.5 C2492.0 701.3 2492.6 700.6 2493.3 708.8 C2494.0 716.9 2494.4 745.7 2495.3 748.3 C2496.3 750.8 2497.9 735.2 2499.0 723.9 C2500.1 712.5 2500.9 678.5 2501.7 680.2 C2502.5 681.9 2503.3 729.5 2504.0 734.0 C2504.8 738.5 2505.4 709.5 2506.2 707.1 C2507.0 704.7 2507.7 721.9 2508.8 719.7 C2509.8 717.4 2511.3 694.9 2512.5 693.6 C2513.6 692.4 2514.4 706.7 2515.5 712.1 C2516.5 717.6 2517.7 729.9 2518.8 726.4 C2520.0 722.9 2521.1 692.6 2522.2 691.1 C2523.3 689.6 2524.4 714.1 2525.6 717.2 C2526.7 720.2 2528.0 709.0 2528.9 709.6 C2529.9 710.2 2530.3 720.1 2531.5 720.5 C2532.6 720.9 2534.5 709.7 2535.7 712.1 C2536.9 714.5 2537.6 739.9 2538.7 734.8 C2539.8 729.8 2541.1 685.5 2542.4 681.9 C2543.6 678.2 2544.8 710.4 2546.1 713.0 C2547.3 715.5 2548.6 696.0 2549.9 697.0 C2551.3 698.0 2552.9 715.8 2554.1 718.8 C2555.4 721.9 2556.4 718.7 2557.5 715.5 C2558.6 712.3 2559.6 698.7 2560.9 699.5 C2562.1 700.3 2563.8 721.6 2565.1 720.5 C2566.3 719.4 2567.2 692.2 2568.4 692.8 C2569.6 693.3 2571.2 721.5 2572.3 723.9 C2573.4 726.3 2574.3 706.0 2575.2 707.1 C2576.1 708.2 2576.8 728.0 2577.7 730.6 C2578.6 733.3 2579.6 726.8 2580.7 723.0 C2581.8 719.3 2583.1 707.2 2584.1 707.9 C2585.0 708.6 2585.4 723.2 2586.4 727.2 C2587.5 731.3 2589.0 733.4 2590.3 732.3 C2591.6 731.2 2593.0 725.1 2594.5 720.5 C2596.0 715.9 2597.9 702.3 2599.2 704.6 C2600.5 706.8 2600.9 733.3 2602.1 734.0 C2603.2 734.7 2604.7 711.1 2605.9 708.8 C2607.2 706.4 2608.4 719.5 2609.6 719.7 C2610.9 719.8 2611.9 705.5 2613.3 709.6 C2614.7 713.7 2616.7 738.6 2618.0 744.1 C2619.4 749.5 2620.3 748.8 2621.4 742.4 C2622.5 735.9 2623.6 707.2 2624.8 705.4 C2625.9 703.6 2626.4 731.2 2628.1 731.5 C2629.8 731.7 2633.2 707.5 2634.8 707.1 C2636.5 706.7 2637.2 728.7 2638.2 728.9 C2639.2 729.2 2639.9 709.0 2640.7 708.8 C2641.6 708.5 2642.4 726.8 2643.3 727.2 C2644.1 727.7 2644.5 708.3 2645.8 711.3 C2647.0 714.2 2649.1 745.2 2650.8 744.9 C2652.5 744.6 2654.3 710.0 2655.9 709.6 C2657.4 709.2 2658.8 741.0 2660.1 742.4 C2661.3 743.8 2662.3 723.9 2663.4 718.0 C2664.6 712.1 2665.7 705.1 2666.8 707.1 C2667.9 709.0 2669.2 727.4 2670.2 729.8 C2671.1 732.2 2671.8 721.2 2672.7 721.4 C2673.5 721.5 2673.9 731.5 2675.2 730.6 C2676.5 729.8 2678.6 719.0 2680.2 716.3 C2681.9 713.7 2683.8 711.3 2685.3 714.6 C2686.7 718.0 2687.4 736.1 2689.0 736.5 C2690.5 736.9 2693.2 719.4 2694.5 717.2 C2695.9 714.9 2696.1 722.3 2697.1 723.0 C2698.0 723.7 2699.9 721.6 2700.4 721.4" stroke="#000" stroke-width="5.0"/>
</g>
<rect x="375.6" y="108.5" width="2325.0" height="693.0" fill="none" stroke="#000" stroke-width="3.33" stroke-linejoin="miter" stroke-linecap="square"/>
<g stroke="#000" stroke-width="3.33"><line x1="503.50" y1="801.50" x2="503.50" y2="816.70"/><line x1="1014.53" y1="801.50" x2="1014.53" y2="816.70"/><line x1="1525.56" y1="801.50" x2="1525.56" y2="816.70"/><line x1="2036.59" y1="801.50" x2="2036.59" y2="816.70"/><line x1="2547.62" y1="801.50" x2="2547.62" y2="816.70"/><line x1="375.60" y1="702.50" x2="360.30" y2="702.50"/><line x1="375.60" y1="558.17" x2="360.30" y2="558.17"/><line x1="375.60" y1="413.83" x2="360.30" y2="413.83"/><line x1="375.60" y1="269.50" x2="360.30" y2="269.50"/><line x1="375.60" y1="125.17" x2="360.30" y2="125.17"/></g>
<text transform="matrix(1.06235 0 0 1.03824 0.000 82.528)" font-size="50.0" x="856.92 889.60 918.82 946.99 975.14 993.68 1011.70 1042.85 1086.47 1101.94 1132.16 1146.80 1162.26 1191.88 1221.08 1234.17 1262.34 1290.49 1306.79 1322.55 1352.75 1382.70 1412.64 1441.97 1472.60 1502.48 1532.33 1562.37 1591.25 1607.22 1620.40 1649.12 1663.96 1688.69 1719.91 1749.39 1779.18 1808.45 1820.63 1845.23 1861.92 1888.68 1919.73 1934.46 1959.05 1976.92 2006.87">Spectrum of object 140023070 in candels-cdfs-40</text>
<text transform="matrix(0.77376 0 0 0.78426 0.000 715.848)" font-size="50.0" x="385.59 416.67">10</text>
<text transform="matrix(0.77667 0 0 0.78426 0.000 571.515)" font-size="50.0" x="383.70 415.06">20</text>
<text transform="matrix(0.77500 0 0 0.78426 0.000 427.182)" font-size="50.0" x="385.26 415.98">30</text>
<text transform="matrix(0.79065 0 0 0.78426 0.000 282.849)" font-size="50.0" x="377.29 407.47">40</text>
<text transform="matrix(0.76846 0 0 0.78426 0.000 138.516)" font-size="50.0" x="388.40 419.64">50</text>
<text transform="matrix(0.60632 0 0 0.60339 0.000 852.118)" font-size="50.0" x="769.09 799.88 830.49 861.09">5000</text>
<text transform="matrix(0.62015 0 0 0.60339 0.000 852.118)" font-size="50.0" x="1575.86 1605.78 1635.70 1665.62">6000</text>
<text transform="matrix(0.61169 0 0 0.60339 0.000 852.118)" font-size="50.0" x="2433.20 2463.63 2493.97 2524.31">7000</text>
<text transform="matrix(0.61656 0 0 0.60339 0.000 852.118)" font-size="50.0" x="3242.81 3272.91 3303.01 3333.10">8000</text>
<text transform="matrix(0.61984 0 0 0.60339 0.000 852.118)" font-size="50.0" x="4049.87 4079.95 4109.89 4139.83">9000</text>
<text transform="matrix(0.70288 0 0 0.69215 0.000 887.752)" font-size="50.0" x="2046.76 2089.61 2121.37 2148.68 2178.11 2191.04 2220.66 2250.35 2281.82 2299.34">Wavelength</text>
<g transform="translate(268.2 708.4) rotate(-90)"><text transform="matrix(0.92986 0 0 0.99434 0.000 -0.186)" font-size="50.0" x="-4.07 27.01">10</text>
<text transform="matrix(0.66934 0 0 0.65536 0.000 -18.220)" font-size="50.0" x="121.67 152.58">18</text>
<text transform="matrix(1.04939 0 0 0.96566 0.000 -0.620)" font-size="50.0" x="129.57 158.62 174.49">erg</text>
<text transform="matrix(0.91277 0 0 0.96269 0.000 -0.170)" font-size="50.0" x="250.04">s</text>
<text transform="matrix(0.66334 0 0 0.67152 0.000 -18.000)" font-size="50.0" x="422.52">1</text>
<text transform="matrix(1.01229 0 0 0.95281 0.000 -0.365)" font-size="50.0" x="303.67 331.06">cm</text>
<text transform="matrix(0.64974 0 0 0.66739 0.000 -17.900)" font-size="50.0" x="625.74">2</text>
<text transform="matrix(0.90486 0 0 0.98561 0.000 0.000)" font-size="50.0" x="480.64">Å</text>
<text transform="matrix(0.66334 0 0 0.66862 0.000 -18.000)" font-size="50.0" x="745.28">1</text><g fill="#000"><rect x="56.4" y="-29.85" width="19.5" height="2.9"/><rect x="256.1" y="-29.75" width="20.3" height="2.9"/><rect x="381.8" y="-29.85" width="20.2" height="2.9"/><rect x="469.7" y="-30.15" width="20.4" height="2.9"/></g></g>
</svg>
</body></html>
